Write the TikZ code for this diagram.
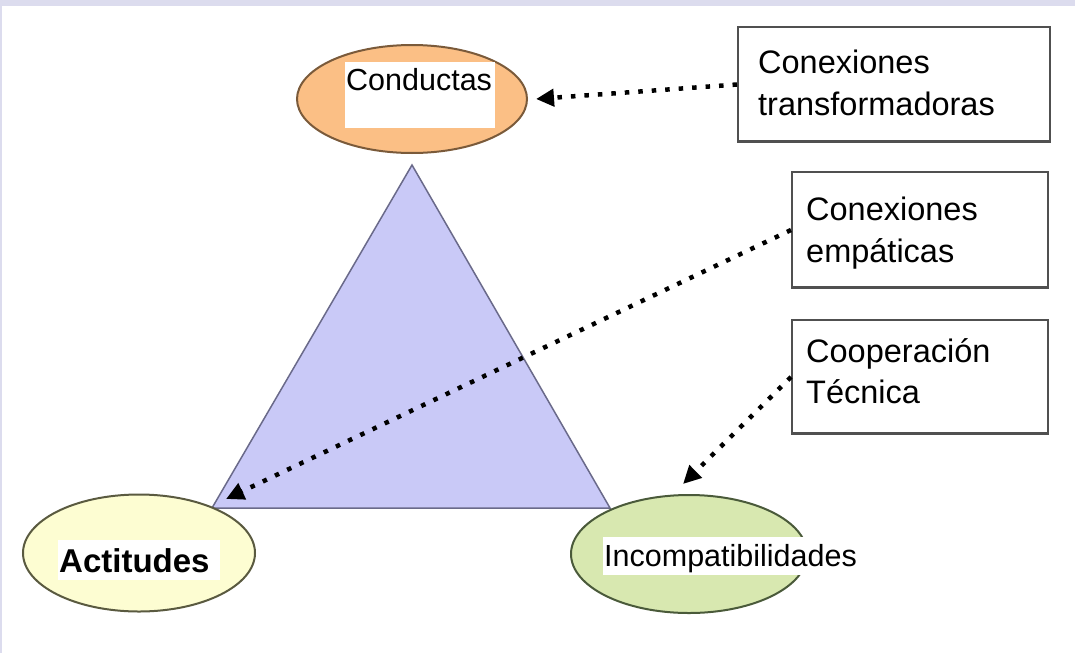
\documentclass[tikz,border=0pt]{standalone}
\usepackage{fontspec}
\setmainfont{Liberation Sans}
\usetikzlibrary{shapes.geometric,arrows.meta}
\definecolor{bandcol}{HTML}{DCDCEE}
\definecolor{trifill}{HTML}{C9C9F7}
\definecolor{tribord}{HTML}{6A6A8A}
\definecolor{orfill}{HTML}{FBBF85}
\definecolor{orbord}{HTML}{7A5A3A}
\definecolor{yefill}{HTML}{FDFDD2}
\definecolor{yebord}{HTML}{5A5A40}
\definecolor{grfill}{HTML}{D8E8B0}
\definecolor{grbord}{HTML}{4A5A3A}
\definecolor{boxbord}{HTML}{505050}
\tikzset{
  oval/.style={ellipse, draw, line width=2pt, inner sep=0pt},
  labelbox/.style={fill=white, inner sep=0pt, anchor=north west},
  labeltext/.style={anchor=base west, inner sep=0pt, font=\fontsize{30.5}{36}\selectfont},
  notebox/.style={draw=boxbord, line width=2pt, fill=white, inner sep=0pt},
  notetext/.style={anchor=base west, inner sep=0pt, font=\fontsize{32.5}{42}\selectfont},
  conn/.style={line width=4.5pt, dash pattern=on 4.5pt off 9pt, -{Triangle[length=18pt,width=17pt]}}
}
\begin{document}
\begin{tikzpicture}[x=1pt,y=-1pt]
\useasboundingbox (0,0) rectangle (1075,653);
\fill[white] (0,0) rectangle (1075,653);
\fill[bandcol] (0,0) rectangle (1075,6);
\fill[bandcol] (0,0) rectangle (2,653);

% triangle
\draw[fill=trifill, draw=tribord, line width=1.5pt] (412,165) -- (610,508) -- (212,508) -- cycle;

% ellipses
\node[oval, fill=orfill, draw=orbord, minimum width=230pt, minimum height=108pt] (cond) at (412,99) {};
\node[labelbox, minimum width=150pt, minimum height=66pt] (condbg) at (345,62) {};
\node[labeltext] (condt) at (346,90) {Conductas};

\node[oval, fill=yefill, draw=yebord, minimum width=232pt, minimum height=117pt] (act) at (139,553) {};
\node[labelbox, minimum width=162pt, minimum height=40pt] (actbg) at (58,540) {};
\node[labeltext, font=\fontsize{33}{36}\selectfont\bfseries] (actt) at (59,572) {Actitudes};

\node[oval, fill=grfill, draw=grbord, minimum width=236pt, minimum height=118pt] (inc) at (689,554) {};
\node[labelbox, minimum width=254pt, minimum height=38pt] (incbg) at (603,537) {};
\node[labeltext] (inct) at (604,566) {Incompatibilidades};

% note boxes
\node[notebox, minimum width=312pt, minimum height=115pt] (b1) at (894,84.5) {};
\draw[boxbord, line width=2pt] (b1.south west) ++(0,-2) -- ++(312,0);
\node[notetext] (b1a) at (758,73) {Conexiones};
\node[notetext] (b1b) at (758,115) {transformadoras};

\node[notebox, minimum width=256pt, minimum height=116pt] (b2) at (920,230) {};
\draw[boxbord, line width=2pt] (b2.south west) ++(0,-2) -- ++(256,0);
\node[notetext] (b2a) at (806,220) {Conexiones};
\node[notetext] (b2b) at (806,262) {empáticas};

\node[notebox, minimum width=256pt, minimum height=114pt] (b3) at (920,377) {};
\draw[boxbord, line width=2pt] (b3.south west) ++(0,-2) -- ++(256,0);
\node[notetext] (b3a) at (806,362) {Cooperación};
\node[notetext] (b3b) at (806,403) {Técnica};

% connectors
\coordinate (t2) at (226,499);
\coordinate (t3) at (683,484);
\draw[conn] (b1.west) -- ([xshift=8pt]cond.east);
\draw[conn] (b2.west) -- (t2);
\draw[conn] (b3.west) -- (t3);
\end{tikzpicture}
\end{document}
